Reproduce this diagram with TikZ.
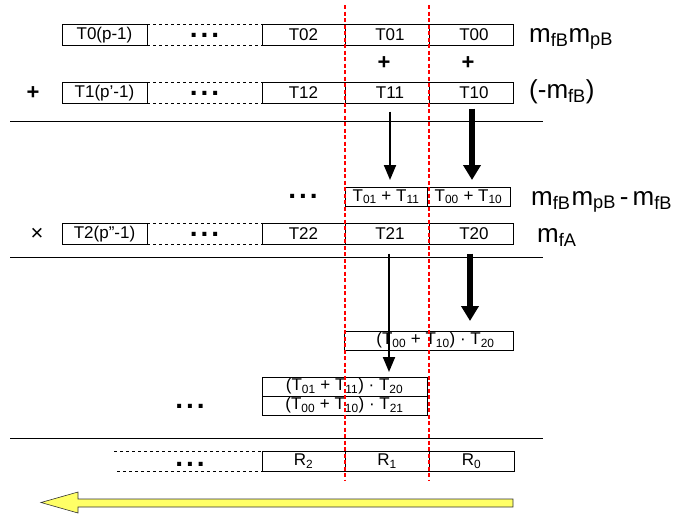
\documentclass[tikz,border=0pt]{standalone}
\usepackage{fontspec}
\setmainfont{Liberation Sans}
\usetikzlibrary{positioning,arrows.meta}
\definecolor{arrowyellow}{RGB}{255,255,102}
\definecolor{guidered}{RGB}{255,0,0}

\tikzset{
  cell/.style={draw, line width=0.8pt, inner sep=0pt, outer sep=0pt, minimum height=21pt, font=\fontsize{17}{17}\selectfont},
  gap/.style={inner sep=0pt, outer sep=0pt, minimum height=21pt, font=\fontsize{28}{28}\selectfont\bfseries},
  lbl/.style={anchor=base west, inner sep=0pt, font=\fontsize{26}{26}\selectfont},
  op/.style={inner sep=0pt, font=\fontsize{22}{22}\selectfont\bfseries},
  thin arrow/.style={line width=2pt, -{Triangle[length=15pt,width=12pt]}},
  thick arrow/.style={line width=6pt, -{Triangle[length=15pt,width=17pt]}},
  sep/.style={line width=0.8pt},
  col/.style={draw=guidered, dash pattern=on 4pt off 2.5pt, line width=1.1pt},
}

\begin{document}
\begin{tikzpicture}[x=1pt,y=-1pt]
\useasboundingbox (0,0) rectangle (674,515);
\def\dotrow{.\hspace{3pt}.\hspace{3pt}.}

% operand rows
\foreach\r/\y/\first in {0/35/T0(p-1),1/93/T1(p'-1),2/234/T2(p''-1)} {
  \node[cell, minimum width=85pt] (first\r) at (104.5,\y) {\first};
  \node[gap, minimum width=115pt, right=0pt of first\r] (d\r) {\dotrow};
  \draw[dashed, line width=0.8pt] (d\r.north west) -- (d\r.north east) (d\r.south west) -- (d\r.south east);
  \node[cell, minimum width=83pt, right=0pt of d\r] (T\r2) {T\r2};
  \node[cell, minimum width=84pt, right=0pt of T\r2] (T\r1) {\hspace{6pt}T\r1};
  \node[cell, minimum width=84pt, right=0pt of T\r1] (T\r0) {\hspace{6pt}T\r0};
}
\node[op] (plus) at (33,93) {+};
\node[op] (p1) at (384,63) {+};
\node[op] (p0) at (468,63) {+};
\node[op, font=\fontsize{22}{22}\selectfont] (times) at (37,234) {×};

\node[lbl] (m0) at (529,42) {m\textsubscript{fB}m\textsubscript{pB}};
\node[lbl] (m1) at (529,98) {(-m\textsubscript{fB})};
\node[lbl] (m2) at (531,205) {m\textsubscript{fB}\hspace{1pt}m\textsubscript{pB}\hspace{4pt}-\hspace{4pt}m\textsubscript{fB}};
\node[lbl] (m3) at (537,242) {m\textsubscript{fA}};

% sum row
\node[cell, minimum width=82pt, minimum height=19pt] (S01) at (386,196.5) {T\textsubscript{01} + T\textsubscript{11}};
\node[cell, minimum width=83pt, minimum height=19pt, right=0pt of S01] (S00) {T\textsubscript{00} + T\textsubscript{10}};
\node[gap] (dS) at (303,196) {\dotrow};

% products
\node[cell, minimum width=169pt, minimum height=19pt] (P0) at (428.5,340.5) {\hspace{14pt}(T\textsubscript{00} + T\textsubscript{10}) · T\textsubscript{20}};
\node[cell, minimum width=165pt, minimum height=19pt] (P1) at (344.5,386.5) {(T\textsubscript{01} + T\textsubscript{11}) · T\textsubscript{20}};
\node[cell, minimum width=165pt, minimum height=19pt, below=0pt of P1] (P2) {(T\textsubscript{00} + T\textsubscript{10}) · T\textsubscript{21}};
\node[gap] (dP) at (190,406) {\dotrow};

% result row
\node[cell, minimum width=83pt, minimum height=20pt] (R2) at (303.5,461) {R\textsubscript{2}};
\node[cell, minimum width=84pt, minimum height=20pt, right=0pt of R2] (R1) {R\textsubscript{1}};
\node[cell, minimum width=85pt, minimum height=20pt, right=0pt of R1] (R0) {R\textsubscript{0}};
\node[gap] (dR) at (190,464) {\dotrow};
\coordinate (rt) at (114,451);
\coordinate (rb) at (117,471);
\draw[dashed, line width=0.8pt] (rt) -- (R2.north west) (rb) -- (R2.south west);

% separators
\foreach\y in {121,257,438} {
  \draw[sep] (10,\y) -- (543,\y);
}

% arrows
\coordinate (a1) at ([xshift=3pt,yshift=-8pt]T11.south);
\coordinate (a0) at ([xshift=1pt,yshift=-5pt]T10.south);
\draw[thin arrow] (a1) -- ([yshift=7pt]a1 |- S01.north);
\draw[thick arrow] (a0) -- ([yshift=7pt]a0 |- S00.north);
\coordinate (b1) at ([xshift=2pt,yshift=-9pt]T21.south);
\coordinate (b0) at ([xshift=-1pt,yshift=-9pt]T20.south);
\draw[thin arrow] (b1) -- ([yshift=5pt]b1 |- P1.north);
\draw[thick arrow] (b0) -- ([yshift=10pt]b0 |- P0.north);

% carry direction
\filldraw[fill=arrowyellow, draw=black!80, line width=0.6pt] (513,499) -- (78,499) -- (78,492) -- (41,502.5) -- (78,513) -- (78,507) -- (513,507) -- cycle;

% column guides
\foreach\x in {345,429} {
  \draw[col] (\x,5) -- (\x,480);
}
\end{tikzpicture}
\end{document}
